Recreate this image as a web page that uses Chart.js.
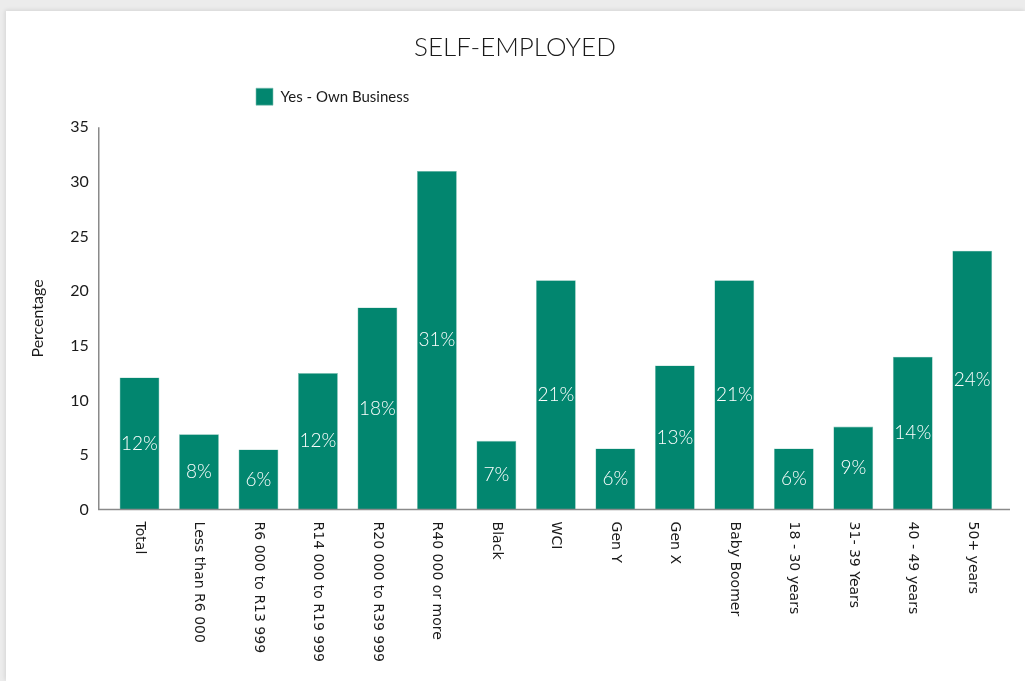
<!DOCTYPE html>
<html>
<head>
<meta charset="utf-8">
<script src="https://cdn.jsdelivr.net/npm/chart.js@4.4.1/dist/chart.umd.min.js"></script>
<style>
  html, body { margin: 0; padding: 0; }
  body { width: 1025px; height: 681px; background: #ececec; position: relative; overflow: hidden; }
  .card { position: absolute; left: 6px; top: 11px; right: 0; bottom: 0; background: #fff;
          box-shadow: -1px -1px 4px rgba(0,0,0,0.10); }
  #wrap { position: absolute; left: 0; top: 0; width: 1025px; height: 681px; }
</style>
</head>
<body>
<div class="card"></div>
<div id="wrap"><canvas id="customChart"></canvas></div>
<script>
let categories = ['Total', 'Less than R6 000', 'R6 000 to R13 999', 'R14 000 to R19 999',
  'R20 000 to R39 999', 'R40 000 or more', 'Black', 'WCI', 'Gen Y', 'Gen X',
  'Baby Boomer', '18 - 30 years', '31- 39 Years', '40 - 49 years', '50+ years'];
let ownBusiness = [12.1, 6.9, 5.5, 12.5, 18.5, 31.0, 6.3, 21.0, 5.6, 13.2, 21.0, 5.6, 7.6, 14.0, 23.7];
let barLabels = ['12%', '8%', '6%', '12%', '18%', '31%', '7%', '21%', '6%', '13%', '21%', '6%', '9%', '14%', '24%'];
let yTicks = [0, 5, 10, 15, 20, 25, 30, 35];

let green = '#02866f';
let fontFamily = 'Lato, "Open Sans", sans-serif';
let xFont = '14px "DejaVu Sans", sans-serif';

// text inside each bar, centred
let barText = {
  id: 'barText',
  afterDatasetsDraw(chart) {
    let ctx = chart.ctx;
    let meta = chart.getDatasetMeta(0);
    ctx.save();
    ctx.fillStyle = '#fff';
    ctx.font = '300 19px ' + fontFamily;
    ctx.textAlign = 'center';
    ctx.textBaseline = 'middle';
    meta.data.forEach((bar, i) => {
      ctx.fillText(barLabels[i], bar.x, (bar.y + bar.base) / 2);
    });
    ctx.restore();
  }
};

// category names turned clockwise, reading downwards
let xLabels = {
  id: 'xLabels',
  afterDraw(chart) {
    let ctx = chart.ctx;
    let xs = chart.scales.x;
    let top = chart.chartArea.bottom + 12;
    ctx.save();
    ctx.fillStyle = '#1a1a1a';
    ctx.font = xFont;
    ctx.textAlign = 'left';
    ctx.textBaseline = 'middle';
    categories.forEach((c, i) => {
      ctx.save();
      ctx.translate(xs.getPixelForTick(i), top);
      ctx.rotate(Math.PI / 2);
      ctx.fillText(c, 0, 0);
      ctx.restore();
    });
    ctx.restore();
  }
};

// axis lines reach a little past the bar area, as in the original
let axisLines = {
  id: 'axisLines',
  afterDraw(chart) {
    let a = chart.chartArea;
    let ctx = chart.ctx;
    ctx.save();
    ctx.strokeStyle = '#8a8a8a';
    ctx.lineWidth = 1.5;
    ctx.beginPath();
    ctx.moveTo(a.left - 11, a.top);
    ctx.lineTo(a.left - 11, a.bottom);
    ctx.lineTo(a.right + 8, a.bottom);
    ctx.stroke();
    ctx.restore();
  }
};

// legend sits left of centre, with more room below it
let moveLegend = {
  id: 'moveLegend',
  beforeLayout(chart) {
    let lg = chart.legend;
    if (lg && !lg._extraGap) {
      let fit = lg.fit.bind(lg);
      lg.fit = function () {
        fit();
        this.height += 12;
      };
      lg._extraGap = true;
    }
  },
  afterLayout(chart) {
    chart.legend.left = 236;
  }
};

let ctx = document.getElementById('customChart').getContext('2d');

let myChart = new Chart(ctx, {
  type: 'bar',
  data: {
    labels: categories,
    datasets: [{
      label: 'Yes - Own Business',
      data: ownBusiness,
      backgroundColor: green,
      borderColor: '#7fc0b3',
      borderWidth: 0.6,
      barPercentage: 0.67,
      categoryPercentage: 1
    }]
  },
  options: {
    responsive: true,
    maintainAspectRatio: false,
    animation: false,
    layout: {
      padding: { left: 28, right: 23, top: 0, bottom: 11 }
    },
    plugins: {
      title: {
        display: true,
        text: 'SELF-EMPLOYED',
        color: '#1a1a1a',
        font: { family: fontFamily, size: 26, weight: '300' },
        padding: { top: 32, bottom: 5 }
      },
      legend: {
        position: 'top',
        align: 'start',
        labels: {
          color: '#1a1a1a',
          font: { family: fontFamily, size: 15 },
          boxWidth: 17,
          boxHeight: 17,
          padding: 20
        }
      },
      tooltip: { enabled: false }
    },
    scales: {
      x: {
        grid: { display: false, drawTicks: false },
        border: { display: false },
        ticks: {
          color: 'rgba(0,0,0,0)',
          font: { family: '"DejaVu Sans", sans-serif', size: 14 },
          maxRotation: 90,
          minRotation: 90,
          autoSkip: false,
          padding: 10
        }
      },
      y: {
        min: 0,
        max: 35,
        grid: { display: false, drawTicks: false },
        border: { display: false },
        afterBuildTicks: (axis) => {
          axis.ticks = yTicks.map(v => ({ value: v }));
        },
        ticks: {
          color: '#1a1a1a',
          font: { family: fontFamily, size: 16 },
          padding: 21
        },
        title: {
          display: true,
          text: 'Percentage',
          color: '#1a1a1a',
          font: { family: fontFamily, size: 16 },
          padding: { top: 0, bottom: 2 }
        }
      }
    }
  },
  plugins: [barText, xLabels, axisLines, moveLegend]
});
</script>
</body>
</html>
